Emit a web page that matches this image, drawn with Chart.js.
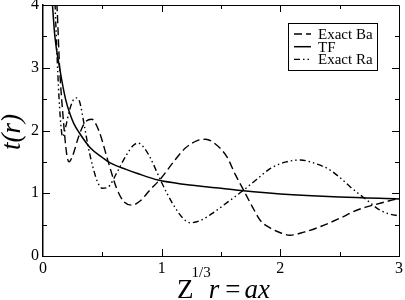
<!DOCTYPE html>
<html>
<head>
<meta charset="utf-8">
<script src="https://cdn.jsdelivr.net/npm/chart.js@4.4.1/dist/chart.umd.min.js"></script>
<style>
  html, body { margin: 0; padding: 0; background: #fff; }
  #wrap { width: 405px; height: 300px; }
</style>
</head>
<body>
<div id="wrap"><canvas id="chart" width="405" height="300"></canvas></div>
<script>
// values
const seriesNames = ['Exact Ba', 'TF', 'Exact Ra'];

const baX = [0.10, 0.12, 0.14, 0.17, 0.20, 0.22, 0.25, 0.30, 0.35, 0.41, 0.47, 0.55, 0.62, 0.68, 0.75, 0.82, 0.90, 1.00, 1.10, 1.20, 1.30, 1.37, 1.45, 1.55, 1.62, 1.69, 1.76, 1.83, 1.92, 2.00, 2.08, 2.20, 2.34, 2.50, 2.62, 2.72, 2.80, 2.90, 3.00];
const baY = [4.60, 3.90, 3.00, 2.20, 1.62, 1.50, 1.60, 1.90, 2.12, 2.18, 2.00, 1.50, 1.08, 0.87, 0.81, 0.88, 1.05, 1.25, 1.50, 1.72, 1.84, 1.86, 1.79, 1.58, 1.30, 1.05, 0.80, 0.57, 0.44, 0.37, 0.33, 0.38, 0.47, 0.60, 0.71, 0.78, 0.82, 0.87, 0.92];

const tfX = [0.06, 0.08, 0.10, 0.14, 0.19, 0.23, 0.26, 0.30, 0.40, 0.50, 0.57, 0.70, 0.79, 0.97, 1.20, 1.50, 1.69, 2.00, 2.50, 3.00];
const tfY = [4.60, 4.00, 3.50, 3.00, 2.50, 2.25, 2.11, 1.98, 1.72, 1.57, 1.48, 1.38, 1.32, 1.21, 1.14, 1.08, 1.04, 0.99, 0.94, 0.91];

const raX = [0.09, 0.11, 0.13, 0.15, 0.165, 0.19, 0.22, 0.25, 0.28, 0.31, 0.35, 0.38, 0.42, 0.46, 0.50, 0.55, 0.62, 0.70, 0.76, 0.80, 0.85, 0.90, 0.99, 1.05, 1.12, 1.18, 1.24, 1.32, 1.42, 1.55, 1.69, 1.80, 1.92, 2.05, 2.17, 2.30, 2.42, 2.52, 2.59, 2.73, 2.84, 2.92, 3.00];
const raY = [4.60, 3.60, 2.70, 2.10, 1.90, 2.05, 2.30, 2.47, 2.52, 2.45, 2.06, 1.75, 1.42, 1.18, 1.08, 1.10, 1.32, 1.60, 1.76, 1.80, 1.73, 1.58, 1.21, 0.98, 0.75, 0.60, 0.53, 0.56, 0.67, 0.85, 1.05, 1.22, 1.40, 1.50, 1.53, 1.47, 1.37, 1.22, 1.10, 0.89, 0.73, 0.67, 0.64];

const xTicks = [0, 1, 2, 3];
const yTicks = [0, 1, 2, 3, 4];

const serif = '"Liberation Serif", "DejaVu Serif", serif';

function pts(xs, ys) {
    return xs.map((x, i) => ({ x: x, y: ys[i] }));
}

// inward ticks on all four sides, plus top/right frame
const frameTicks = {
    id: 'frameTicks',
    afterDatasetsDraw(chart) {
        const ctx = chart.ctx;
        const a = chart.chartArea;
        const xs = chart.scales.x, ys = chart.scales.y;
        ctx.save();
        ctx.strokeStyle = '#000';
        ctx.lineWidth = 1;
        ctx.beginPath();
        ctx.moveTo(a.left, a.top + 0.5);
        ctx.lineTo(a.right + 0.5, a.top + 0.5);
        ctx.lineTo(a.right + 0.5, a.bottom);
        ctx.stroke();
        // skip the ends, they sit on the frame
        for (let v = 0.5; v < 3; v += 0.5) {
            const len = Number.isInteger(v) ? 7 : 4;
            const px = Math.round(xs.getPixelForValue(v)) + 0.5;
            ctx.beginPath();
            ctx.moveTo(px, a.bottom); ctx.lineTo(px, a.bottom - len);
            ctx.moveTo(px, a.top); ctx.lineTo(px, a.top + len);
            ctx.stroke();
        }
        for (let v = 0.5; v < 4; v += 0.5) {
            const len = Number.isInteger(v) ? 7 : 4;
            const py = Math.round(ys.getPixelForValue(v)) + 0.5;
            ctx.beginPath();
            ctx.moveTo(a.left, py); ctx.lineTo(a.left + len, py);
            ctx.moveTo(a.right, py); ctx.lineTo(a.right - len, py);
            ctx.stroke();
        }
        ctx.restore();
    }
};

// legend box with line samples
const lineLegend = {
    id: 'lineLegend',
    afterDraw(chart) {
        const ctx = chart.ctx;
        const bx = 288, by = 23, bw = 89, bh = 47;
        ctx.save();
        ctx.fillStyle = '#fff';
        ctx.fillRect(bx, by, bw, bh);
        ctx.strokeStyle = '#000';
        ctx.lineWidth = 1;
        ctx.strokeRect(bx + 0.5, by + 0.5, bw, bh);
        ctx.font = '15px ' + serif;
        ctx.textBaseline = 'middle';
        chart.data.datasets.forEach((ds, i) => {
            const y = by + 11 + i * 12.7;
            ctx.setLineDash(ds.borderDash || []);
            ctx.lineWidth = ds.borderWidth;
            ctx.beginPath();
            ctx.moveTo(bx + 6, y);
            ctx.lineTo(bx + 23, y);
            ctx.stroke();
            ctx.setLineDash([]);
            ctx.fillStyle = '#000';
            ctx.fillText(ds.label, bx + 30, y + 1);
        });
        ctx.restore();
    }
};

// axis titles: t(r) and Z^{1/3} r = ax
const axisTitles = {
    id: 'axisTitles',
    afterDraw(chart) {
        const ctx = chart.ctx;
        ctx.save();
        ctx.fillStyle = '#000';
        ctx.textBaseline = 'alphabetic';

        ctx.translate(20, 132);
        ctx.rotate(-Math.PI / 2);
        ctx.font = 'italic 27px ' + serif;
        ctx.textAlign = 'center';
        ctx.fillText('t(r)', 0, 0);
        ctx.setTransform(1, 0, 0, 1, 0, 0);

        ctx.textAlign = 'left';
        let x = 177;
        const base = 298;
        ctx.font = '27px ' + serif;
        ctx.fillText('Z', x, base);
        x += ctx.measureText('Z').width - 2;
        ctx.font = '15px ' + serif;
        ctx.fillText('1/3', x, base - 21);
        x += ctx.measureText('1/3').width - 2;
        ctx.font = 'italic 27px ' + serif;
        ctx.fillText('r', x, base);
        x += ctx.measureText('r').width + 6;
        ctx.font = '27px ' + serif;
        ctx.fillText('=', x, base);
        x += ctx.measureText('=').width + 4;
        ctx.font = 'italic 27px ' + serif;
        ctx.fillText('ax', x, base);
        ctx.restore();
    }
};

const ctx = document.getElementById('chart').getContext('2d');
new Chart(ctx, {
    type: 'line',
    data: {
        datasets: [
            {
                label: seriesNames[0],
                data: pts(baX, baY),
                borderColor: '#000',
                borderWidth: 1.4,
                borderDash: [8, 4],
                pointRadius: 0,
                cubicInterpolationMode: 'monotone'
            },
            {
                label: seriesNames[1],
                data: pts(tfX, tfY),
                borderColor: '#000',
                borderWidth: 1.5,
                pointRadius: 0,
                cubicInterpolationMode: 'monotone'
            },
            {
                label: seriesNames[2],
                data: pts(raX, raY),
                borderColor: '#000',
                borderWidth: 1.4,
                borderDash: [6, 3, 1.5, 3, 1.5, 3],
                pointRadius: 0,
                cubicInterpolationMode: 'monotone'
            }
        ]
    },
    options: {
        responsive: false,
        animation: false,
        events: [],
        layout: { padding: { top: 5, right: 6, left: 0, bottom: 0 } },
        plugins: {
            legend: { display: false },
            tooltip: { enabled: false }
        },
        scales: {
            x: {
                type: 'linear',
                min: 0,
                max: 3,
                afterBuildTicks: (s) => { s.ticks = xTicks.map(v => ({ value: v })); },
                ticks: {
                    color: '#000',
                    padding: 3,
                    maxRotation: 0,
                    font: { family: serif, size: 16 }
                },
                grid: { drawOnChartArea: false, drawTicks: false },
                border: { color: '#000', width: 1 },
                afterFit: (s) => {
                    s.height = 44;
                    s.paddingLeft = 0;
                    s.paddingRight = 0;
                }
            },
            y: {
                min: 0,
                max: 4,
                afterBuildTicks: (s) => { s.ticks = yTicks.map(v => ({ value: v })); },
                ticks: {
                    color: '#000',
                    padding: 4,
                    font: { family: serif, size: 16 }
                },
                grid: { drawOnChartArea: false, drawTicks: false },
                border: { color: '#000', width: 1.5 },
                afterFit: (s) => {
                    s.width = 43;
                    s.paddingTop = 0;
                    s.paddingBottom = 0;
                }
            }
        }
    },
    plugins: [frameTicks, lineLegend, axisTitles]
});
</script>
</body>
</html>
